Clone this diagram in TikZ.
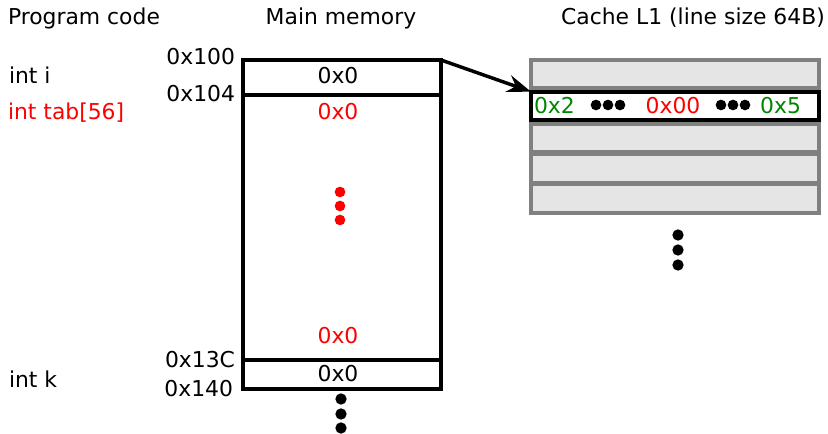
\documentclass[tikz,border=0pt]{standalone}
\usepackage{fontspec}
\setmainfont{DejaVu Sans}
\usetikzlibrary{arrows.meta}
\definecolor{cgreen}{RGB}{0,135,0}
\definecolor{cfill}{RGB}{229,229,229}
\definecolor{cgray}{RGB}{128,128,128}
\begin{document}
\begin{tikzpicture}[x=0.75pt,y=-0.75pt,
  every node/.style={font=\fontsize{16.4}{19}\selectfont, inner sep=0pt, outer sep=0pt},
  memcell/.style={draw, line width=2.6pt, minimum width=148.5pt, anchor=north west},
  cacherow/.style={draw=cgray, fill=cfill, line width=2.8pt, minimum width=216pt, minimum height=21.5pt},
  hotrow/.style={draw=black, fill=white, line width=3pt, minimum width=216pt, minimum height=21.5pt},
  dotc/.style={circle, fill, minimum size=8.5pt},
  lbl/.style={anchor=west},
  addr/.style={anchor=east}]
\useasboundingbox (0,0) rectangle (828,434);
% headers
\node[lbl] (hprog) at (8,18) {Program code};
\node (hmem) at (341,18) {Main memory};
\node (hcache) at (693,18) {Cache L1 (line size 64B)};
% program code
\node[lbl] (vi) at (9,75) {int i};
\node[lbl, text=red] (vtab) at (8,113) {int tab[56]};
\node[lbl] (vk) at (9,379) {int k};
% addresses
\node[addr] (a100) at (235,57) {0x100};
\node[addr] (a104) at (235,94) {0x104};
\node[addr] (a13c) at (235,360) {0x13C};
\node[addr] (a140) at (233,389) {0x140};
% memory cells
\node[memcell, minimum height=26.25pt] (ci) at (243,60) {};
\node[memcell, minimum height=198.75pt] (ctab) at (243,95) {};
\node[memcell, minimum height=21.75pt] (ck) at (243,360) {};
\node (ti) at (338,76) {0x0};
\node[text=red] (ttab1) at (338,112) {0x0};
\node[text=red] (ttab2) at (338,336) {0x0};
\node (tk) at (338,374) {0x0};
\node[dotc, red, minimum size=8pt] (rd1) at (340,192) {};
\node[dotc, red, minimum size=8pt] (rd2) at (340,206) {};
\node[dotc, red, minimum size=8pt] (rd3) at (340,220) {};
\node[dotc] (md1) at (341,399) {};
\node[dotc] (md2) at (341,414) {};
\node[dotc] (md3) at (341,428) {};
% cache
\node[cacherow] (r1) at (675,74) {};
\node[cacherow] (r3) at (675,138) {};
\node[cacherow] (r4) at (675,168.5) {};
\node[cacherow] (r5) at (675,198.5) {};
\node[hotrow] (r2) at (675,106) {};
\node[text=cgreen, anchor=west] (g1) at (534,106) {0x2};
\node[text=red] (z0) at (673,106) {0x00};
\node[text=cgreen, anchor=east] (g2) at (801,106) {0x5};
\foreach \x [count=\i] in {596,608,620} \node[dotc, minimum size=8pt] (la\i) at (\x,105) {};
\foreach \x [count=\i] in {721,733,745} \node[dotc, minimum size=8pt] (lb\i) at (\x,105) {};
\node[dotc] (cd1) at (678,235) {};
\node[dotc] (cd2) at (678,250) {};
\node[dotc] (cd3) at (678,265) {};
% arrow
\draw[line width=2.6pt, -{Stealth[length=18pt, width=13pt, inset=6pt]}] (ci.north east) -- (r2.north west);
\end{tikzpicture}
\end{document}
